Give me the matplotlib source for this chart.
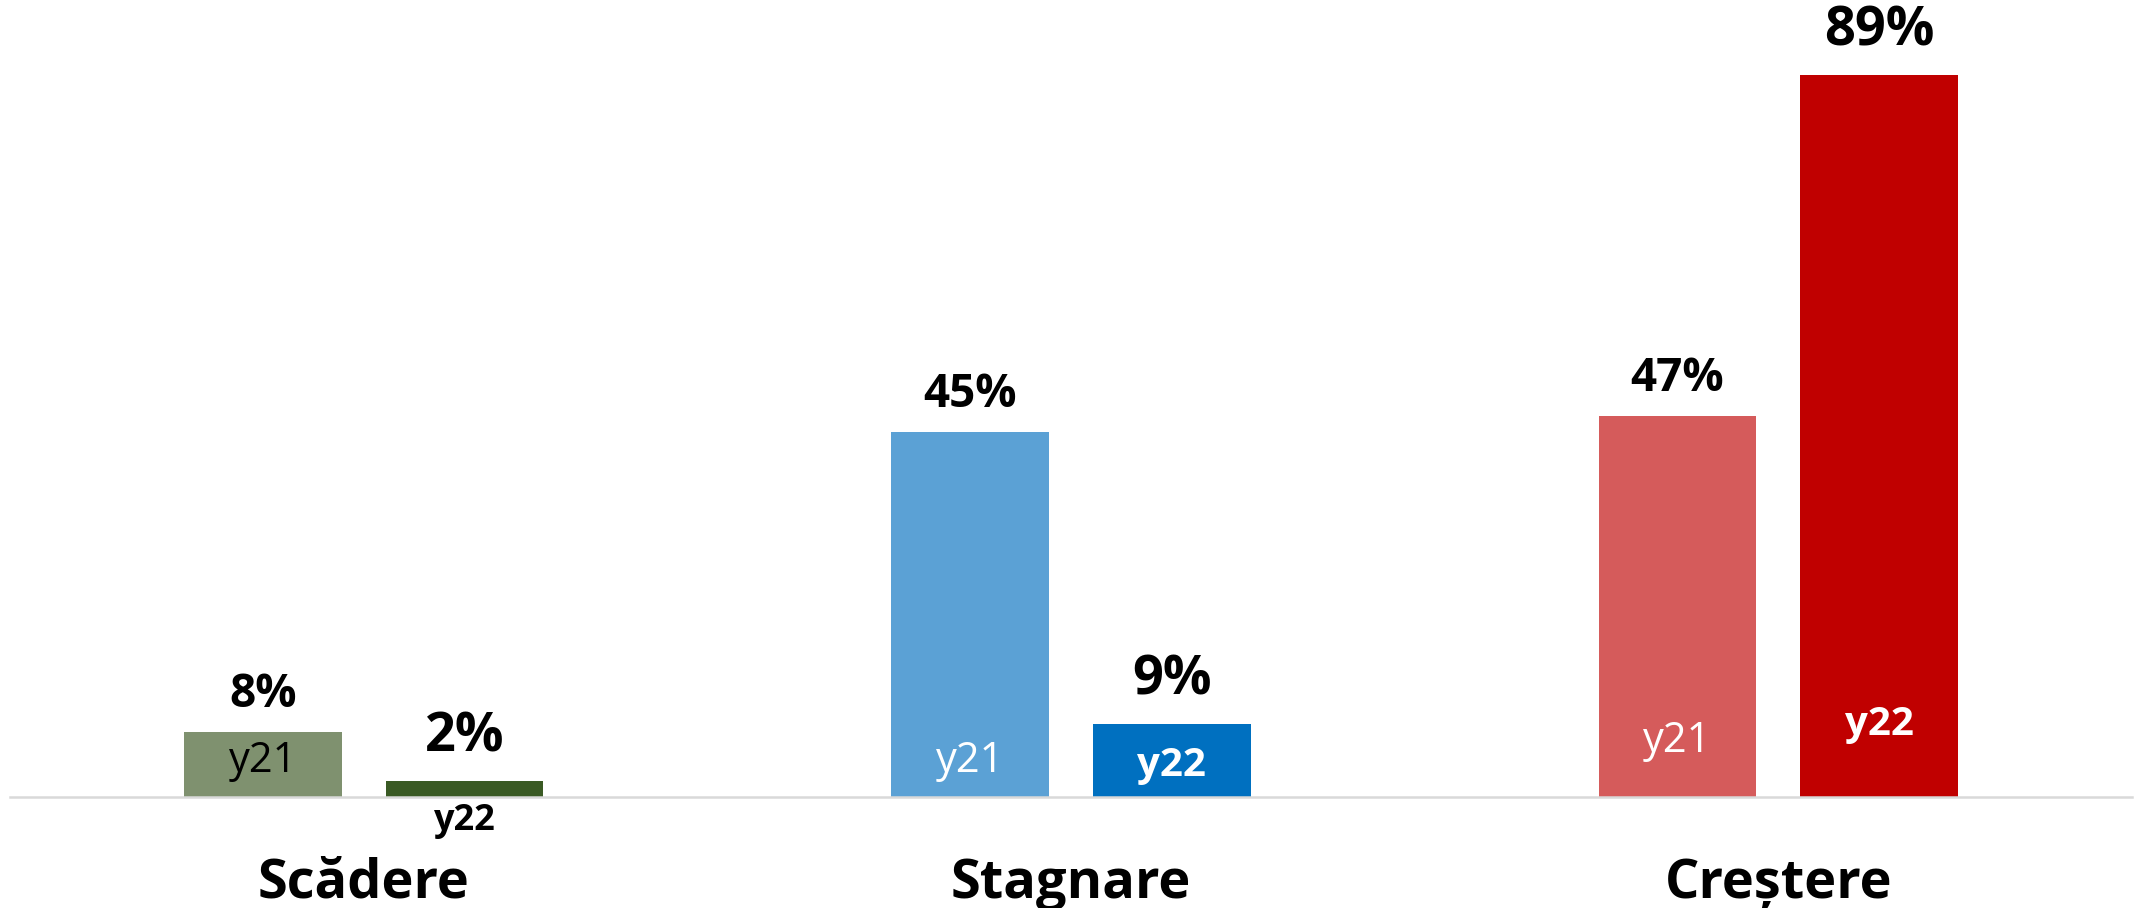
import numpy as np
import matplotlib.pyplot as plt

plt.rcParams['font.family'] = ['Open Sans', 'DejaVu Sans']

# date
categorii = ['Scădere', 'Stagnare', 'Creștere']
y21 = [8, 45, 47]
y22 = [2, 9, 89]
culori21 = ['#7F916F', '#5BA1D5', '#D55B5B']
culori22 = ['#3A5A24', '#0070C0', '#C00000']
text21 = ['black', 'white', 'white']
text22 = ['black', 'white', 'white']
# pozitia etichetelor "y21"/"y22" (in unitati de date)
poz21 = [4.4, 4.4, 6.9]
poz22 = [-3.0, 3.9, 8.9]

fig = plt.figure(figsize=(21.39, 9.08), dpi=100)
ax = fig.add_axes([10 / 2139, 111 / 908, 2122 / 2139, 797 / 908])

x = np.arange(len(categorii))
w = 0.223
off = 0.1425

b1 = ax.bar(x - off, y21, w, color=culori21)
b2 = ax.bar(x + off, y22, w, color=culori22)

for i in range(len(categorii)):
    ax.annotate(f'{y21[i]}%', (x[i] - off, y21[i]), xytext=(0, 10),
                textcoords='offset points', ha='center', va='bottom',
                fontsize=33, fontweight='bold', color='black')
    ax.annotate(f'{y22[i]}%', (x[i] + off, y22[i]), xytext=(0, 12),
                textcoords='offset points', ha='center', va='bottom',
                fontsize=39, fontweight='bold', color='black')
    ax.text(x[i] - off, poz21[i], 'y21', ha='center', va='center',
            fontsize=30, color=text21[i])
    ax.text(x[i] + off, poz22[i], 'y22', ha='center', va='center',
            fontsize=29 if i > 0 else 26, fontweight='bold', color=text22[i],
            clip_on=False)

ax.set_xlim(-0.5, 2.5)
ax.set_ylim(0, 98.2)
ax.set_xticks(x)
ax.set_xticklabels(categorii, fontsize=39, fontweight='bold')
ax.tick_params(axis='x', length=0, pad=43)
ax.set_yticks([])
for s in ['top', 'left', 'right']:
    ax.spines[s].set_visible(False)
ax.spines['bottom'].set_color('#D9D9D9')
ax.spines['bottom'].set_linewidth(1.8)

fig.savefig('out.png', dpi=100)
